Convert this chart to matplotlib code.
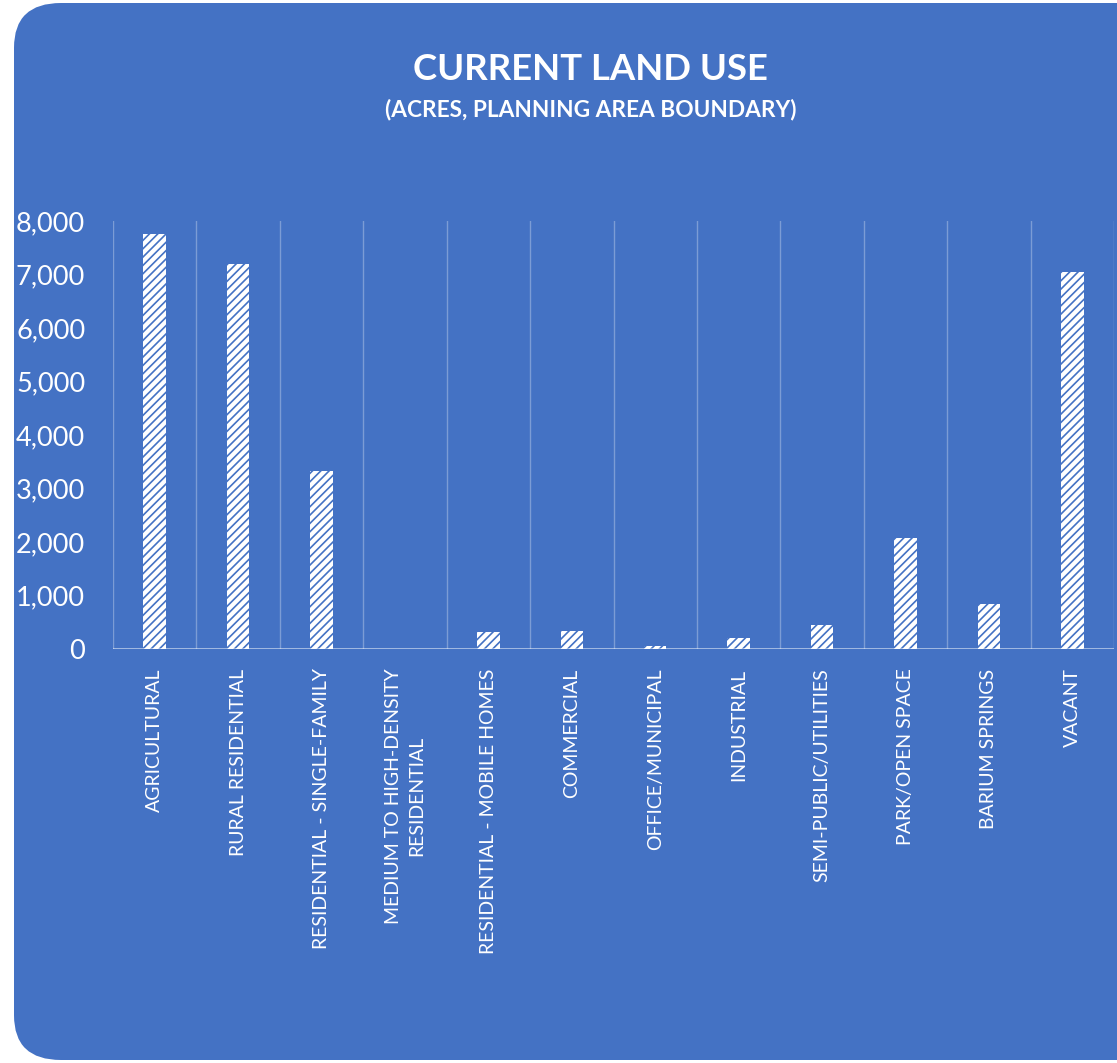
import matplotlib.pyplot as plt
from matplotlib.patches import FancyBboxPatch
from matplotlib.ticker import FuncFormatter

categories = [
    "AGRICULTURAL",
    "RURAL RESIDENTIAL",
    "RESIDENTIAL - SINGLE-FAMILY",
    "MEDIUM TO HIGH-DENSITY\nRESIDENTIAL",
    "RESIDENTIAL - MOBILE HOMES",
    "COMMERCIAL",
    "OFFICE/MUNICIPAL",
    "INDUSTRIAL",
    "SEMI-PUBLIC/UTILITIES",
    "PARK/OPEN SPACE",
    "BARIUM SPRINGS",
    "VACANT",
]
acres = [7760, 7200, 3320, 0, 320, 340, 50, 210, 450, 2075, 840, 7050]
y_ticks = [0, 1000, 2000, 3000, 4000, 5000, 6000, 7000, 8000]

blue = "#4472C4"
plt.rcParams["font.family"] = ["Lato", "DejaVu Sans"]
plt.rcParams["hatch.linewidth"] = 1.2

fig = plt.figure(figsize=(11.17, 10.63), dpi=100)
fig.patch.set_facecolor("white")

# rounded card behind the chart
card = FancyBboxPatch((14 / 1117, 3 / 1063), 1.2, (1060 - 3) / 1063,
                      boxstyle="round,pad=0,rounding_size=0.042",
                      transform=fig.transFigure, facecolor=blue,
                      edgecolor="none", zorder=-5)
fig.patches.append(card)

fig.text(0.529, 1 - 70 / 1063, "CURRENT LAND USE", color="white",
         fontsize=26.3, fontweight="bold", ha="center", va="center")
fig.text(0.529, 1 - 110 / 1063, "(ACRES, PLANNING AREA BOUNDARY)", color="white",
         fontsize=16.3, fontweight="bold", ha="center", va="center")

ax = fig.add_axes([113 / 1117, 1 - 649 / 1063, (1114 - 113) / 1117, (649 - 221) / 1063])
ax.set_facecolor("none")

x = list(range(len(categories)))
ax.bar(x, acres, width=0.27, color="white", edgecolor=blue, linewidth=0,
       hatch="////", zorder=3)

ax.set_xlim(-0.5, len(categories) - 0.5)
ax.set_ylim(0, 8000)
ax.set_yticks(y_ticks)
ax.yaxis.set_major_formatter(FuncFormatter(lambda v, p: f"{int(v):,}"))

# separators between categories
grid_color = (1, 1, 1, 0.3)
for gx in [i - 0.5 for i in range(len(categories) + 1)]:
    ax.axvline(gx, color=grid_color, linewidth=1, zorder=1)

for s in ax.spines.values():
    s.set_visible(False)
ax.axhline(0, color=(1, 1, 1, 0.55), linewidth=1.3, zorder=4)

ax.set_xticks(x)
ax.set_xticklabels(categories, rotation=90, ha="center", va="top",
                   multialignment="center", fontsize=14, color="white",
                   linespacing=1.45)
ax.tick_params(axis="x", length=0, pad=14)
ax.tick_params(axis="y", length=0, pad=20, labelsize=19.5, labelcolor="white")

fig.savefig("out.png", dpi=100, facecolor=fig.get_facecolor())
